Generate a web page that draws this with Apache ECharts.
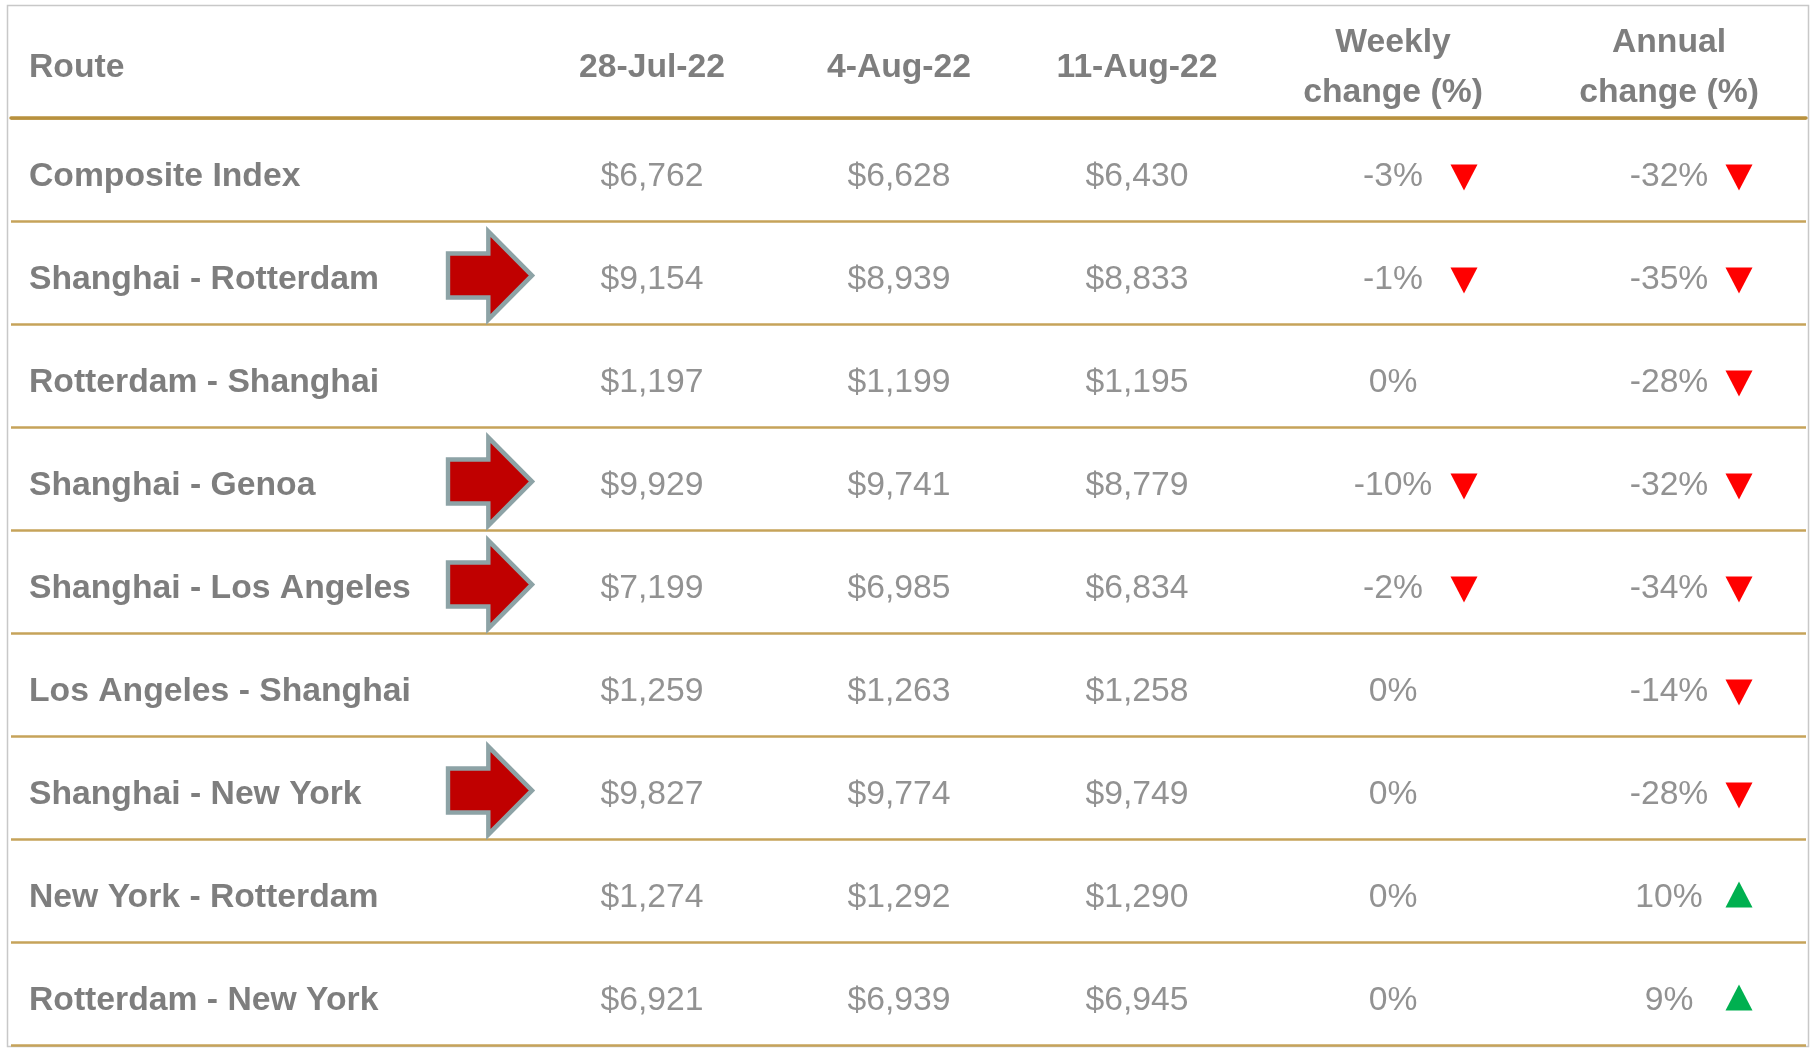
<!DOCTYPE html>
<html>
<head>
<meta charset="utf-8">
<script src="https://cdn.jsdelivr.net/npm/echarts@6/dist/echarts.min.js"></script>
<style>
  html, body { margin: 0; padding: 0; background: #fff; }
  #echart { width: 1816px; height: 1048px; }
</style>
</head>
<body>
<div id="echart"></div>
<script>
// table rows
const routes = [
  'Composite Index',
  'Shanghai - Rotterdam',
  'Rotterdam - Shanghai',
  'Shanghai - Genoa',
  'Shanghai - Los Angeles',
  'Los Angeles - Shanghai',
  'Shanghai - New York',
  'New York - Rotterdam',
  'Rotterdam - New York'
];
const dateLabels = ['28-Jul-22', '4-Aug-22', '11-Aug-22'];
const jul28 = [6762, 9154, 1197, 9929, 7199, 1259, 9827, 1274, 6921];
const aug04 = [6628, 8939, 1199, 9741, 6985, 1263, 9774, 1292, 6939];
const aug11 = [6430, 8833, 1195, 8779, 6834, 1258, 9749, 1290, 6945];
const weekly = [-3, -1, 0, -10, -2, 0, 0, 0, 0];
const annual = [-32, -35, -28, -32, -34, -14, -28, 10, 9];
const flagged = [false, true, false, true, true, false, true, false, false];

// column layout (x axis runs in page pixels)
const COL = { route: 29, arrow: 491, d1: 652, d2: 899, d3: 1137, wk: 1393, wkMark: 1464, an: 1669, anMark: 1739 };

const FONT = 'Liberation Sans';
const GOLD = '#c6a35a';
const DARK = '#5e5e5e';
const GREY = '#777777';

function money(v) { return '$' + v.toLocaleString('en-US'); }

function textSeries(name, grid, col, values, opts) {
  return {
    name: name,
    type: 'scatter',
    xAxisIndex: grid, yAxisIndex: grid,
    symbolSize: 1,
    itemStyle: { color: 'rgba(0,0,0,0)' },
    silent: true,
    z: 5,
    data: values.map((t, i) => [col, grid === 0 ? 'h' : routes[i], t]),
    label: {
      show: true,
      position: 'inside',
      align: opts.align,
      verticalAlign: 'middle',
      offset: [0, grid === 0 ? 5 : 7.5],
      formatter: p => p.value[2],
      color: opts.color,
      fontFamily: FONT,
      fontSize: 33.7,
      fontWeight: opts.bold ? 'bold' : 'normal',
      lineHeight: 50
    }
  };
}

function markSeries(col, values, withZero) {
  const data = [];
  values.forEach((v, i) => {
    if (v === 0 && !withZero) return;
    data.push({
      value: [col, routes[i]],
      symbolRotate: v < 0 ? 180 : 0,
      symbolOffset: [0, v < 0 ? 8 : 4],
      itemStyle: { color: v < 0 ? '#ff0000' : '#00b050', opacity: 1 }
    });
  });
  return {
    type: 'scatter', xAxisIndex: 1, yAxisIndex: 1,
    symbol: 'triangle', symbolSize: [27, 26],
    silent: true, z: 4,
    data: data
  };
}

const chart = echarts.init(document.getElementById('echart'));

const option = {
  animation: false,
  backgroundColor: '#fff',
  graphic: [{
    type: 'rect',
    shape: { x: 7.5, y: 5.5, width: 1801, height: 1041 },
    style: { fill: 'none', stroke: '#c8c8c8', lineWidth: 1.5 },
    silent: true
  }],
  grid: [
    { left: 11, right: 10, top: 8, height: 110 },
    { left: 11, right: 10, top: 118, bottom: 3 }
  ],
  xAxis: [
    { gridIndex: 0, type: 'value', min: 11, max: 1806, show: false },
    {
      gridIndex: 1, type: 'value', min: 11, max: 1806, position: 'top',
      axisLine: { show: true, onZero: false, lineStyle: { color: '#b8913e', width: 3.5 } },
      axisTick: { show: false }, axisLabel: { show: false }, splitLine: { show: false }
    }
  ],
  yAxis: [
    { gridIndex: 0, type: 'category', data: ['h'], show: false },
    {
      gridIndex: 1, type: 'category', data: routes, inverse: true,
      axisLine: { show: false }, axisTick: { show: false }, axisLabel: { show: false },
      splitLine: { show: true, lineStyle: { color: GOLD, width: 2.5 } }
    }
  ],
  series: [
    // header
    textSeries('hRoute', 0, COL.route, ['Route'], { align: 'left', color: DARK, bold: true }),
    textSeries('hD1', 0, COL.d1, [dateLabels[0]], { align: 'center', color: DARK, bold: true }),
    textSeries('hD2', 0, COL.d2, [dateLabels[1]], { align: 'center', color: DARK, bold: true }),
    textSeries('hD3', 0, COL.d3, [dateLabels[2]], { align: 'center', color: DARK, bold: true }),
    textSeries('hWk', 0, COL.wk, ['Weekly\nchange (%)'], { align: 'center', color: DARK, bold: true }),
    textSeries('hAn', 0, COL.an, ['Annual\nchange (%)'], { align: 'center', color: DARK, bold: true }),
    // body
    textSeries('route', 1, COL.route, routes, { align: 'left', color: DARK, bold: true }),
    textSeries('d1', 1, COL.d1, jul28.map(money), { align: 'center', color: GREY }),
    textSeries('d2', 1, COL.d2, aug04.map(money), { align: 'center', color: GREY }),
    textSeries('d3', 1, COL.d3, aug11.map(money), { align: 'center', color: GREY }),
    textSeries('wk', 1, COL.wk, weekly.map(v => v + '%'), { align: 'center', color: GREY }),
    textSeries('an', 1, COL.an, annual.map(v => v + '%'), { align: 'center', color: GREY }),
    markSeries(COL.wkMark, weekly, false),
    markSeries(COL.anMark, annual, true),
    // red arrows on the highlighted routes
    {
      type: 'scatter', xAxisIndex: 1, yAxisIndex: 1,
      symbol: 'path://M0 25 L48 25 L48 0 L100 50 L48 100 L48 75 L0 75 Z',
      symbolKeepAspect: false,
      symbolSize: [84, 88],
      symbolOffset: [-1, 3],
      itemStyle: { color: '#c00000', borderColor: '#8da3a6', borderWidth: 4.5, opacity: 1 },
      silent: true, z: 4,
      data: routes.filter((r, i) => flagged[i]).map(r => [COL.arrow, r])
    }
  ]
};

chart.setOption(option);
</script>
</body>
</html>
